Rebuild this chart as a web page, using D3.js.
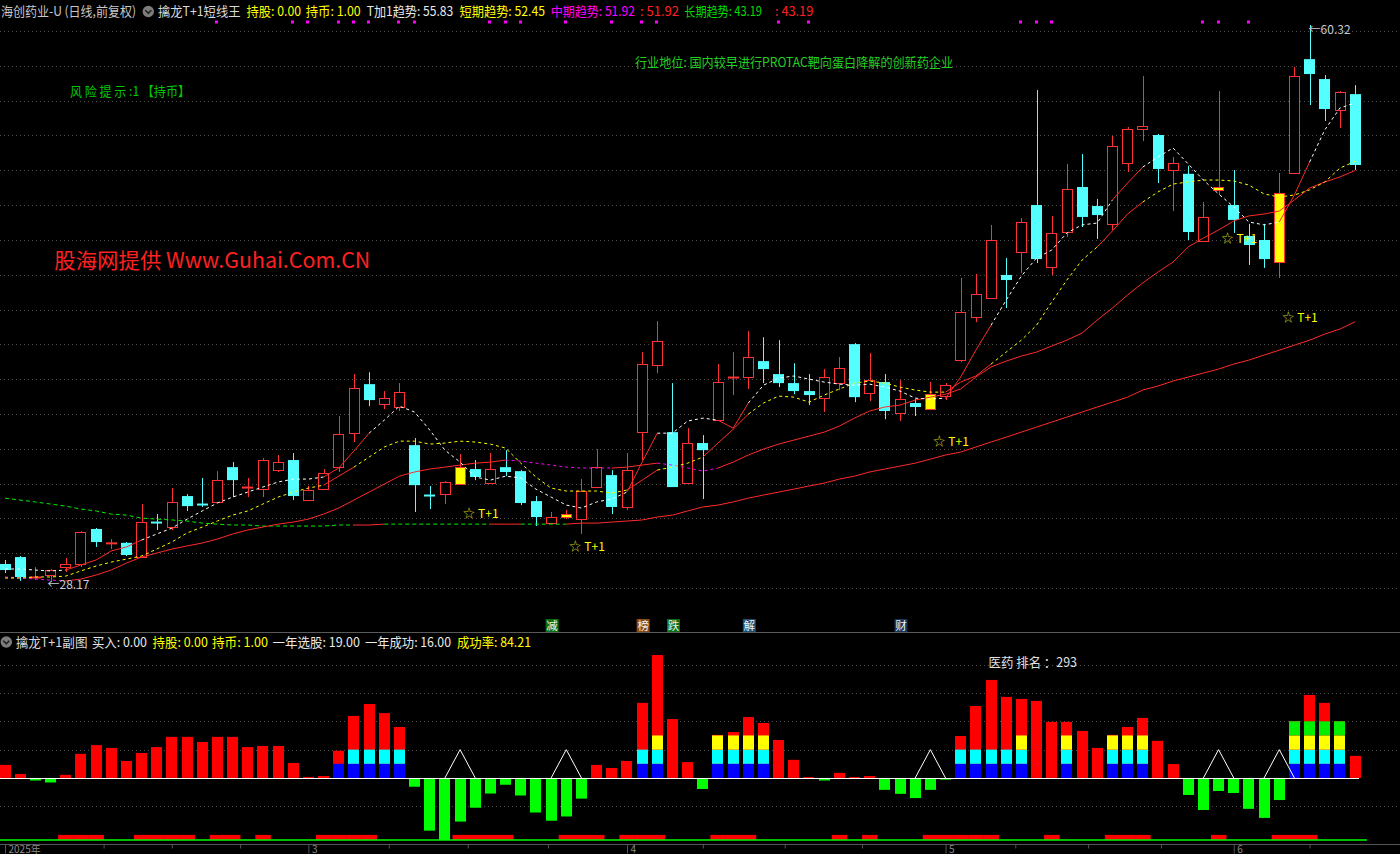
<!DOCTYPE html>
<html><head><meta charset="utf-8">
<script src="https://cdn.jsdelivr.net/npm/d3@7/dist/d3.min.js"></script>
<style>
html,body{margin:0;padding:0;background:#000;overflow:hidden}
svg{display:block}
text{font-family:"Noto Sans CJK SC","Microsoft YaHei",sans-serif}
</style></head><body>
<svg id="chart" width="1400" height="854"></svg>
<script>
// ---------------- data ----------------
const opens=[29.21,29.61,28.46,28.57,29.03,29.21,31.23,30.43,30.43,29.61,31.63,31.34,33.13,32.67,32.79,34.80,33.65,33.53,34.63,35.21,32.90,33.53,34.80,36.76,39.59,38.44,38.27,36.07,33.19,33.24,33.82,34.69,33.88,34.80,34.57,32.84,31.57,31.92,31.80,33.65,34.34,32.50,36.82,40.69,36.82,33.88,36.19,37.51,40.00,40.00,40.92,40.17,39.65,39.19,38.78,39.65,41.90,39.07,39.71,37.92,38.50,38.15,38.90,40.98,43.46,44.56,45.89,47.22,49.93,46.35,48.37,50.97,49.87,48.84,52.35,54.32,53.97,51.95,51.73,47.85,50.80,49.93,48.14,47.91,46.64,51.78,58.35,57.20,55.41,56.33];
const highs=[29.44,29.67,29.03,28.92,29.55,31.11,31.29,30.65,30.48,32.67,32.09,33.59,33.24,34.17,34.57,35.09,34.17,35.32,35.50,35.61,33.71,34.69,37.75,40.17,40.28,39.19,39.65,36.48,33.71,33.99,35.55,35.21,35.61,35.78,34.63,33.13,32.21,32.32,34.11,35.84,34.63,35.61,41.44,43.23,39.65,37.05,36.65,40.75,41.44,42.65,42.30,42.13,40.80,40.17,40.46,41.15,41.96,41.38,40.17,39.82,38.73,39.71,39.65,45.72,45.95,48.78,46.87,49.18,56.57,49.30,52.30,52.87,50.28,53.91,54.43,57.37,54.03,52.70,52.19,50.10,56.51,51.95,48.84,48.84,51.78,57.89,60.32,57.43,56.51,56.85];
const lows=[28.69,28.23,28.28,28.17,28.74,29.03,30.19,30.07,29.67,29.61,31.17,31.17,32.27,32.50,32.73,33.07,33.07,33.07,34.52,32.90,32.84,33.48,34.52,36.25,38.32,38.15,38.04,32.21,32.38,32.67,33.82,34.05,33.88,34.28,32.61,31.40,31.57,31.80,30.94,33.65,32.09,32.32,35.21,40.23,33.65,33.88,32.96,37.51,38.96,39.31,39.65,39.42,39.01,38.38,37.98,39.25,38.55,38.61,37.57,37.46,37.75,38.15,38.67,40.87,43.17,44.56,43.98,46.01,46.58,45.89,48.08,48.66,47.97,48.49,51.83,53.62,51.20,49.58,47.91,47.85,50.51,48.32,46.47,46.30,45.72,51.78,55.70,54.78,54.37,51.95];
const closes=[28.86,28.46,28.46,28.86,29.21,31.05,30.48,30.43,29.73,31.63,31.62,32.79,32.55,32.66,34.05,34.05,33.65,35.21,35.09,33.13,33.48,34.46,36.71,39.36,38.67,38.78,39.13,33.76,33.18,33.94,34.80,34.23,34.69,34.52,32.73,31.92,31.92,32.09,33.42,34.80,32.50,34.63,40.75,42.07,33.65,36.19,35.78,39.71,40.00,41.15,40.46,39.65,39.19,38.96,40.00,40.52,38.84,39.82,38.04,38.73,38.27,39.01,39.53,43.75,44.79,47.91,45.60,48.95,46.81,48.32,50.85,49.24,49.35,53.34,54.32,54.49,52.01,52.35,48.37,49.24,50.97,49.07,47.62,46.81,50.62,57.37,57.49,55.47,56.45,52.24];
const hiliteIdx=[30,37,61,80,84];

const lineT1=[28.92,28.92,28.86,28.81,28.86,29.15,29.44,29.96,30.19,30.59,30.94,31.28,31.80,32.27,32.73,33.07,33.36,33.65,33.94,34.11,34.11,34.23,34.75,35.73,36.76,37.51,38.32,37.98,36.94,35.78,35.09,34.23,34.05,34.28,34.17,33.53,33.07,32.61,32.44,32.79,32.96,33.36,35.09,36.76,36.76,37.46,37.63,37.51,37.05,38.50,39.53,39.94,40.06,39.88,39.71,39.59,39.53,39.59,39.42,39.19,38.78,38.73,38.78,40.00,41.55,42.99,44.44,45.83,46.87,47.33,48.32,48.78,48.89,50.22,51.20,52.12,52.70,53.22,52.30,51.37,50.57,49.82,48.95,48.78,48.95,50.51,52.41,54.26,55.53,55.83];
const lineShort=[28.40,28.40,28.46,28.46,28.51,28.81,29.09,29.32,29.49,29.67,30.07,30.48,31.00,31.34,31.69,32.03,32.27,32.67,33.07,33.36,33.59,33.76,34.28,34.80,35.38,35.96,36.30,36.30,36.13,36.19,36.30,36.25,36.13,35.90,35.03,34.23,33.59,33.42,33.42,33.42,33.30,33.48,34.05,34.63,34.80,35.03,35.38,36.19,36.99,37.86,38.50,38.90,38.84,38.55,38.96,39.31,39.65,39.77,39.65,39.42,39.25,39.13,39.13,39.71,40.06,40.75,41.44,42.13,42.99,44.33,45.60,46.75,47.51,48.43,49.41,50.10,50.68,51.14,51.26,51.37,51.37,51.32,51.08,50.57,50.39,50.51,50.80,51.26,52.06,52.45];
const lineMid=[28.46,28.40,28.34,28.28,28.23,28.34,28.57,28.86,29.26,29.61,29.84,30.07,30.25,30.42,30.65,30.94,31.17,31.34,31.51,31.63,31.80,32.09,32.44,32.90,33.36,33.82,34.28,34.52,34.69,34.80,34.92,35.03,35.09,35.21,35.15,35.03,34.92,34.80,34.75,34.75,34.75,34.80,34.92,35.03,34.92,34.75,34.57,34.75,35.09,35.50,35.84,36.13,36.36,36.59,36.82,37.17,37.63,38.04,38.27,38.38,38.67,38.84,39.01,39.31,40.00,40.58,40.92,41.21,41.44,41.79,42.13,42.54,43.29,43.98,44.74,45.43,46.06,46.64,47.51,48.02,48.49,49.01,49.30,49.41,49.58,50.22,50.91,51.26,51.55,51.92];
const lineLong=[33.01,32.90,32.79,32.67,32.55,32.38,32.27,32.09,32.03,31.86,31.80,31.75,31.69,31.57,31.51,31.46,31.46,31.40,31.40,31.40,31.40,31.40,31.46,31.46,31.46,31.51,31.51,31.51,31.51,31.51,31.51,31.51,31.51,31.51,31.51,31.51,31.51,31.51,31.57,31.57,31.63,31.69,31.75,31.92,32.03,32.27,32.50,32.61,32.79,33.01,33.19,33.36,33.53,33.71,33.88,34.11,34.28,34.52,34.69,34.86,35.03,35.26,35.50,35.67,35.96,36.25,36.53,36.82,37.11,37.40,37.69,37.98,38.27,38.55,38.84,39.25,39.48,39.77,40.00,40.23,40.46,40.75,40.98,41.27,41.55,41.84,42.13,42.48,42.77,43.19];
// runs of segments (start index ranges) drawn as solid red
const t1RedRuns=[[4,8],[21,23],[41,42],[47,48],[62,64],[73,74],[84,85]];
const shortRedRuns=[[21,22],[41,42],[46,48],[62,64],[72,74]];
const midRedRuns=[[4,32],[40,42],[47,88]];
const longRedRuns=[[23,24],[32,33],[37,88]];

const sigDots=[14,19,20,22,23,24,26,27,32,33,34,37,40,42,43,51,53,67,68,69,79,80,82];
const gridPrices=[27.80,29.82,31.84,33.85,35.84,37.86,39.88,41.89,43.88,45.89,47.89,49.91,51.93,53.95,55.95,57.95,59.97];

const eventIdx=[36,42,44,49,59];
const eventTxt=["减","榜","跌","解","财"];
const eventBg=["#0b6e12","#8a4a14","#0b6e12","#1d4f73","#1a3358"];

// sub chart
const subVal=[4.6,1.4,-0.9,-1.6,1.1,8.5,11.6,10.6,6.0,8.8,10.9,14.5,14.5,12.7,14.5,14.5,10.9,11.3,11.3,5.3,0.35,0.7,9.6,21.9,26.1,22.9,18.0,-3.1,-18.6,-21.9,-15.4,-10.5,-5.5,-2.4,-6.2,-12.2,-15.1,-13.6,-7.3,4.6,3.5,6.0,26.5,43.4,20.8,5.6,-3.9,15.2,16.2,21.5,19.4,13.4,6.4,0.35,-0.9,1.8,0.35,0.7,-4.2,-5.6,-7.1,-4.2,-0.6,14.8,25.4,34.6,28.6,27.9,27.2,19.8,19.8,16.6,10.6,15.2,18.0,21.2,13.1,4.9,-6.0,-11.3,-4.6,-5.3,-10.9,-14.1,-7.8,20.1,29.3,26.5,20.1,7.8];
const subLayers=[0,0,0,0,0,0,0,0,0,0,0,0,0,0,0,0,0,0,0,0,0,0,1,2,2,2,2,0,0,0,0,0,0,0,0,0,0,0,0,0,0,0,2,3,0,0,0,3,3,3,3,0,0,0,0,0,0,0,0,0,0,0,0,2,2,2,2,3,0,0,3,0,0,3,3,3,0,0,0,0,0,0,0,0,0,4,4,4,4,0];
const layerColors=["#0000ff","#00ffff","#ffff00","#00ee00"];
const triIdx=[30,37,61,80,84];
const blockIdx=[4,5,6,9,10,11,12,14,15,17,21,22,23,24,30,31,32,33,37,38,39,41,42,43,47,48,49,55,57,61,62,63,64,65,69,73,74,75,80,84,85,86];
const subGrid=[40,30,20,10,-10];

// x axis
const monthIdx=[0,20,41,62,81];
const monthLbl=["2025年","3","4","5","6"];
const minorTicks=[6.5,11,15.5,25.3,30.5,35.8,46,51.4,56.5,66.6,71.4,76.2,86];

// ---------------- drawing ----------------
const RED="#ff3333", CYAN="#54ffff", YEL="#ffff00", MAG="#ff00ff";
const svg=d3.select("#chart");
svg.append("rect").attr("width",1400).attr("height",854).attr("fill","#000");
const N=closes.length;
const x=d3.scaleLinear().domain([0,N-1]).range([5,1355.1]);
const step=x(1)-x(0);
const y=d3.scaleLinear().domain([28.17,60.32]).range([582,25]);
const sy=d3.scaleLinear().domain([-21.9,43.4]).range([840,655]);

// grids via axes
function gridAxis(scale, vals){
  const g=svg.append("g").call(d3.axisLeft(scale).tickValues(vals).tickSize(-1400).tickFormat(""));
  g.select(".domain").remove();
  g.selectAll(".tick line").attr("stroke","#4e4e4e").attr("stroke-dasharray","1,3");
  g.selectAll(".tick").attr("transform",d=>`translate(0,${Math.round(scale(d))+0.5})`);
}
gridAxis(y,gridPrices);
gridAxis(sy,subGrid);

// panel divider
svg.append("line").attr("x1",0).attr("x2",1400).attr("y1",632.5).attr("y2",632.5).attr("stroke","#5a5a5a");

// candles
const bw=10.7;
const cg=svg.append("g");
d3.range(N).forEach(i=>{
  const o=opens[i],c=closes[i],h=highs[i],l=lows[i];
  const up=c>=o;
  const hl=hiliteIdx.includes(i);
  const col=up?RED:CYAN;
  const cx=Math.round(x(i))+0.5;
  const top=y(Math.max(o,c)), bot=y(Math.min(o,c));
  const left=Math.round(x(i)-bw/2);
  if(bot-top<1.5){
    cg.append("line").attr("x1",cx).attr("x2",cx).attr("y1",y(h)).attr("y2",y(l)).attr("stroke",hl?RED:col);
    cg.append("rect").attr("x",left).attr("y",top-0.5).attr("width",11).attr("height",Math.max(2,bot-top)).attr("fill",hl?YEL:col);
    return;
  }
  if(up){
    cg.append("line").attr("x1",cx).attr("x2",cx).attr("y1",y(h)).attr("y2",top).attr("stroke",RED);
    cg.append("line").attr("x1",cx).attr("x2",cx).attr("y1",bot).attr("y2",y(l)).attr("stroke",RED);
    cg.append("rect").attr("x",left+0.5).attr("y",Math.round(top)+0.5).attr("width",10).attr("height",Math.round(bot)-Math.round(top))
      .attr("fill",hl?YEL:"#000").attr("stroke",RED).attr("stroke-width",1);
  } else {
    cg.append("line").attr("x1",cx).attr("x2",cx).attr("y1",y(h)).attr("y2",y(l)).attr("stroke",CYAN);
    cg.append("rect").attr("x",left).attr("y",top).attr("width",11).attr("height",bot-top).attr("fill",hl?YEL:CYAN);
  }
});

// indicator lines
function drawLine(vals, runs, base, dash){
  const isRed=k=>runs.some(([a,b])=>k>=a&&k<=b);
  const g=svg.append("g");
  const ln=d3.line().x(k=>x(k)).y(k=>y(vals[k]));
  let i=0;
  while(i<N-1){
    const r=isRed(i); let j=i;
    while(j<N-1 && isRed(j)===r) j++;
    g.append("path").datum(d3.range(i,j+1)).attr("d",ln).attr("fill","none")
      .attr("stroke",r?"#ff2a2a":base).attr("stroke-width",1)
      .attr("stroke-dasharray",r?null:dash);
    i=j;
  }
}
drawLine(lineLong,longRedRuns,"#00ee00","4,3");
drawLine(lineMid,midRedRuns,MAG,"3,3");
drawLine(lineShort,shortRedRuns,YEL,"3,3");
drawLine(lineT1,t1RedRuns,"#ffffff","3,3");

// T+1 labels
hiliteIdx.forEach(i=>{
  const t=svg.append("text").attr("x",x(i)+3).attr("y",y(lows[i]*0.95)).attr("dy","0.36em").attr("font-size",12);
  t.append("tspan").attr("fill","#c8d020").text("☆");
  t.append("tspan").attr("fill",YEL).attr("dx",3).text("T+1");
});

// extreme labels
const iMax=d3.maxIndex(highs), iMin=d3.minIndex(lows);
svg.append("text").attr("x",x(iMax)-1).attr("y",y(highs[iMax])+5).attr("dy","0.36em").attr("font-size",12).attr("fill","#c4ccd6").text("←"+highs[iMax].toFixed(2));
svg.append("text").attr("x",x(iMin)-3).attr("y",y(lows[iMin])+3).attr("dy","0.36em").attr("font-size",12).attr("fill","#c4ccd6").text("←"+lows[iMin].toFixed(2));

// signal dots
svg.append("g").selectAll("rect").data(sigDots).join("rect")
  .attr("x",d=>Math.round(x(d))-2).attr("y",20.5).attr("width",3).attr("height",3).attr("fill",MAG);

// texts
function txt(str,x0,x1,yc,color,size){
  return svg.append("text").attr("x",x0).attr("y",yc).attr("dy","0.36em").attr("fill",color)
    .attr("font-size",size).attr("textLength",x1-x0).attr("lengthAdjust","spacingAndGlyphs").text(str);
}
function icon(cx,cy){
  svg.append("circle").attr("cx",cx).attr("cy",cy).attr("r",5.7).attr("fill","#7c7c7c");
  svg.append("path").attr("d",`M${cx-3},${cy-1.2}L${cx},${cy+1.8}L${cx+3},${cy-1.2}`).attr("fill","none").attr("stroke","#1a1a1a").attr("stroke-width",1.4);
}
const f2=v=>v.toFixed(2);
txt("海创药业-U (日线,前复权)",1,136,11.5,"#c8c8c8",13);
icon(148.3,11.5);
txt("擒龙T+1短线王",158,240.5,11.5,"#d8d8d8",13);
txt("持股: 0.00",246.5,301,11.5,YEL,13);
txt("持币: 1.00",305.7,360.7,11.5,YEL,13);
txt("T加1趋势: "+f2(lineT1[N-1]),366.7,453.3,11.5,"#e8e8e8",13);
txt("短期趋势: "+f2(lineShort[N-1]),459.5,545,11.5,YEL,13);
txt("中期趋势: "+f2(lineMid[N-1]),550.7,635,11.5,MAG,13);
txt(": "+f2(lineMid[N-1]),640,679,11.5,"#ff2020",13);
txt("长期趋势: "+f2(lineLong[N-1]),684.3,762,11.5,"#00dd00",13);
txt(": "+f2(lineLong[N-1]),775,813.3,11.5,"#ff2020",13);

txt("风 险 提 示 :1 【持币】",70,190,91,"#00c800",13);
txt("行业地位: 国内较早进行PROTAC靶向蛋白降解的创新药企业",635,953,62,"#20d020",13);
txt("股海网提供 Www.Guhai.Com.CN",54.3,370.3,260,"#ff2020",21);

// event markers
eventIdx.forEach((i,k)=>{
  const cx=x(i)+1;
  svg.append("rect").attr("x",cx-6.5).attr("y",619).attr("width",13).attr("height",13).attr("fill",eventBg[k]);
  svg.append("text").attr("x",cx).attr("y",625.5).attr("dy","0.36em").attr("text-anchor","middle").attr("font-size",11.5).attr("fill","#f0f0f0").text(eventTxt[k]);
});

// sub header
icon(6.3,642);
txt("擒龙T+1副图",15.7,87.5,642,"#d8d8d8",13);
txt("买入: 0.00",92,147,642,"#e8e8e8",13);
txt("持股: 0.00",152.6,207.8,642,YEL,13);
txt("持币: 1.00",212,268,642,YEL,13);
txt("一年选股: 19.00",272.4,360,642,"#e8e8e8",13);
txt("一年成功: 16.00",365,451,642,"#e8e8e8",13);
txt("成功率: 84.21",457,531,642,YEL,13);
txt("医药 排名 ：293",988.6,1077,662.5,"#e0e0e0",13);

// sub bars
const sbw=11;
const sg=svg.append("g");
d3.range(N).forEach(i=>{
  const v=subVal[i], k=subLayers[i];
  const left=Math.round(x(i)-sbw/2);
  if(v>=0){
    sg.append("rect").attr("x",left).attr("y",sy(v)).attr("width",sbw).attr("height",Math.max(1,sy(0)-sy(v))).attr("fill","#ff0000");
    for(let L=0;L<k;L++){
      sg.append("rect").attr("x",left).attr("y",sy(5*L+5)).attr("width",sbw).attr("height",sy(5*L)-sy(5*L+5)).attr("fill",layerColors[L]);
    }
  } else {
    sg.append("rect").attr("x",left).attr("y",sy(0)).attr("width",sbw).attr("height",sy(v)-sy(0)).attr("fill","#00ff00");
  }
});
// blocks
svg.append("g").selectAll("rect").data(blockIdx).join("rect")
  .attr("x",d=>x(d)-step/2).attr("y",sy(-20.1)).attr("width",step+0.3).attr("height",sy(-21.9)-sy(-20.1)).attr("fill","#ff0000");
// zero line and bottom green line
svg.append("line").attr("x1",0).attr("x2",x(N-1)+4).attr("y1",Math.round(sy(0))+0.5).attr("y2",Math.round(sy(0))+0.5).attr("stroke","#ffffff");
svg.append("line").attr("x1",0).attr("x2",x(N-1)+12).attr("y1",sy(-21.9)).attr("y2",sy(-21.9)).attr("stroke","#00ff00").attr("stroke-width",1.5);
// triangles
svg.append("g").selectAll("path").data(triIdx).join("path")
  .attr("d",d=>`M${x(d-1)},${sy(0)}L${x(d)},${sy(10)}L${x(d+1)},${sy(0)}`)
  .attr("fill","none").attr("stroke","#ffffff").attr("stroke-width",1);

// x axis
svg.append("line").attr("x1",0).attr("x2",1400).attr("y1",844.5).attr("y2",844.5).attr("stroke","#555");
const gMinor=svg.append("g").attr("transform","translate(0,844.5)").call(d3.axisBottom(x).tickValues(minorTicks).tickSize(4).tickSizeOuter(0).tickFormat(""));
gMinor.select(".domain").remove();
gMinor.selectAll(".tick line").attr("stroke","#555");
const gMonth=svg.append("g").attr("transform","translate(0,844.5)").call(d3.axisBottom(x).tickValues(monthIdx).tickSize(9).tickSizeOuter(0).tickFormat((d,i)=>monthLbl[i]));
gMonth.select(".domain").remove();
gMonth.selectAll(".tick line").attr("stroke","#555");
gMonth.selectAll(".tick text").attr("x",3).attr("y",8).attr("dy",null).attr("text-anchor","start")
  .attr("fill","#8a8a8a").attr("font-size",10).attr("font-family","'Noto Sans CJK SC',sans-serif");
</script>
</body></html>
